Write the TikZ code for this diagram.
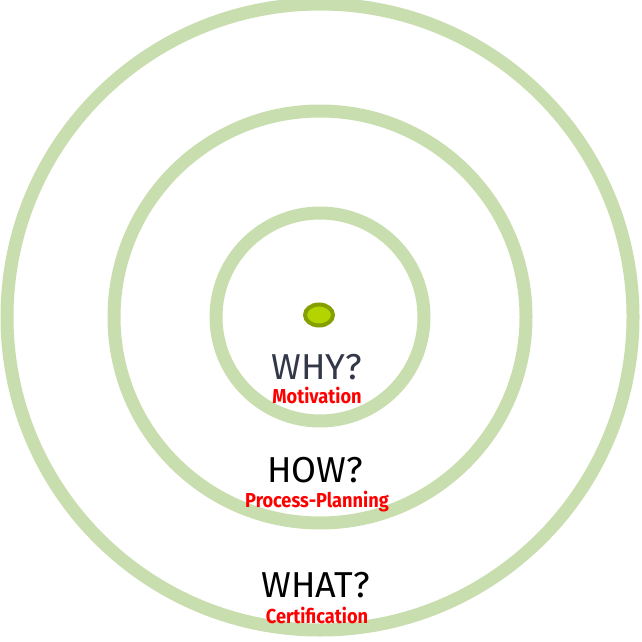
\documentclass[tikz,border=0pt]{standalone}
\usepackage{fontspec}
\setmainfont{Fira Sans}
\newfontfamily\answerfont[FakeStretch=0.9]{Fira Sans}
\usetikzlibrary{positioning}
\definecolor{ringgreen}{RGB}{201,222,174}
\definecolor{dotfill}{RGB}{180,212,0}
\definecolor{dotrim}{RGB}{132,160,0}
\definecolor{whygray}{RGB}{50,56,72}

\begin{document}
\begin{tikzpicture}[x=0.2mm,y=-0.2mm,
                    ring/.style={draw=ringgreen,line width=2.6mm},
                    question/.style={anchor=base,inner sep=0pt,font=\fontsize{20.5}{20.5}\selectfont},
                    answer/.style={anchor=base,inner sep=0pt,text=red,font=\answerfont\bfseries\fontsize{11.5}{11.5}\selectfont}
]
\useasboundingbox (0,0) rectangle (642,642);

\coordinate (centre) at (320,317);
\draw[ring] (centre) circle[radius=313];
\draw[ring] (centre) circle[radius=206];
\draw[ring] (centre) circle[radius=104];
\draw[draw=dotrim,fill=dotfill,line width=0.8mm] (319,315) ellipse[x radius=14, y radius=10.5];
%
\node[question,text=whygray] (why) at (317,379) {WHY?};
\node[answer] (motivation) at (317,403) {Motivation};

\node[question] (how) at (315,482) {HOW?};
\node[answer] (planning) at (317,507) {Process-Planning};

\node[question] (what) at (315.5,597) {WHAT?};
\node[answer] (certification) at (317,623) {Certification};
\end{tikzpicture}
\end{document}
